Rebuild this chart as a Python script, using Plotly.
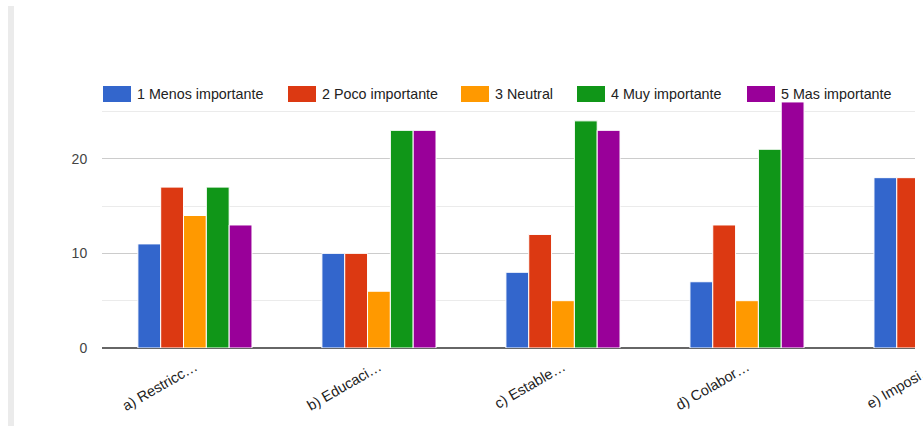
import plotly.graph_objects as go

# ---- data ----
categories = ["a) Restricc…", "b) Educaci…", "c) Estable…", "d) Colabor…", "e) Imposi…"]
series_names = ["1 Menos importante", "2 Poco importante", "3 Neutral",
                "4 Muy importante", "5 Mas importante"]
menos = [11, 10, 8, 7, 18]
poco = [17, 10, 12, 13, 18]
neutral = [14, 6, 5, 5, None]
muy = [17, 23, 24, 21, None]
mas = [13, 23, 23, 26, None]
series_values = [menos, poco, neutral, muy, mas]
colors = ["#3366cc", "#dc3912", "#ff9900", "#109618", "#990099"]

# ---- layout constants (pixels) ----
W, H = 923, 426
ML, MR, MT, MB = 102, 8, 101, 78
PW, PH = W - ML - MR, H - MT - MB
FONT = "Arial, 'Liberation Sans', sans-serif"
XR = [-0.505, 3.913]


def px_x(px):
    return (px - ML) / PW


def px_y(py):
    return (H - MB - py) / PH


fig = go.Figure()
for name, vals, col in zip(series_names, series_values, colors):
    fig.add_trace(go.Bar(
        x=categories, y=vals, name=name,
        marker=dict(color=col, line=dict(color="white", width=1)),
        showlegend=False,
    ))

shapes = []
annotations = []

# custom legend (wide colour swatches like the original)
legend_x = [103, 288, 461, 577, 747]
for name, col, lx in zip(series_names, colors, legend_x):
    shapes.append(dict(type="rect", xref="paper", yref="paper",
                       x0=px_x(lx), x1=px_x(lx + 28), y0=px_y(102), y1=px_y(86),
                       fillcolor=col, line=dict(width=0), layer="above"))
    annotations.append(dict(xref="paper", yref="paper", x=px_x(lx + 32), y=px_y(94),
                            text=name, showarrow=False, xanchor="left", yanchor="middle",
                            font=dict(family=FONT, size=14.3, color="#222222")))

# card edge on the left
shapes.append(dict(type="rect", xref="paper", yref="paper",
                   x0=px_x(8), x1=px_x(14), y0=px_y(430), y1=px_y(6),
                   fillcolor="#ebebeb", line=dict(width=0), layer="below"))

# label of the partially visible last category
cat_idx = len(categories) - 1
ex = (cat_idx - XR[0]) / (XR[1] - XR[0])
annotations.append(dict(xref="paper", yref="paper", x=ex, y=px_y(358),
                        text=categories[-1], showarrow=False, textangle=-30,
                        xanchor="right", yanchor="top", xshift=8,
                        font=dict(family=FONT, size=14.5, color="#222222")))

fig.update_layout(
    width=W, height=H,
    margin=dict(l=ML, r=MR, t=MT, b=MB, pad=0),
    paper_bgcolor="white", plot_bgcolor="white",
    barmode="group", bargap=0.38, bargroupgap=0,
    font=dict(family=FONT, size=14, color="#444444"),
    shapes=shapes, annotations=annotations,
    xaxis=dict(type="category", range=XR, showgrid=False,
               tickangle=-30, tickfont=dict(family=FONT, size=14.5, color="#222222"),
               showline=False, ticks="outside", ticklen=4, tickcolor="rgba(0,0,0,0)",
               zeroline=False),
    yaxis=dict(range=[0, 26.1], dtick=10, tick0=0,
               showgrid=True, gridcolor="#cccccc", gridwidth=1,
               minor=dict(dtick=5, showgrid=True, gridcolor="#ebebeb", gridwidth=1),
               zeroline=True, zerolinecolor="#666666", zerolinewidth=2,
               ticks="outside", ticklen=11, tickcolor="rgba(0,0,0,0)",
               tickfont=dict(family=FONT, size=14, color="#444444"),
               showline=False),
)

fig.write_html("out.html", config={"displayModeBar": False},
               post_script="document.body.style.margin='0';document.body.style.overflow='hidden';")
